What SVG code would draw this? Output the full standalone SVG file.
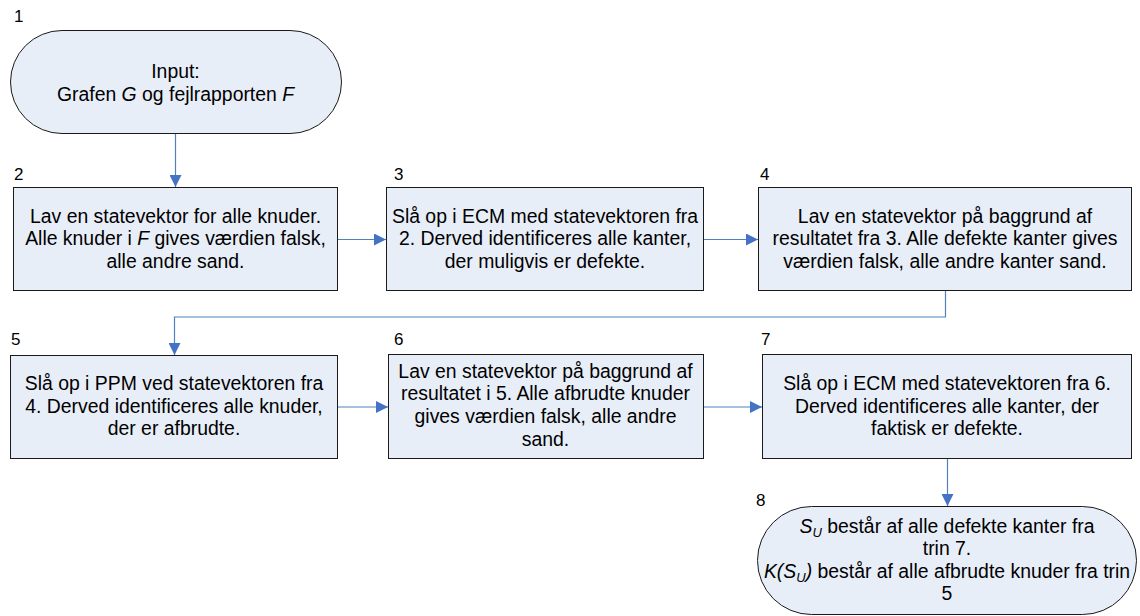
<svg xmlns="http://www.w3.org/2000/svg" width="1140" height="616" viewBox="0 0 1140 616">
  <defs>
    <marker id="arrow" viewBox="0 0 12 12" refX="12" refY="6" markerWidth="12" markerHeight="12" markerUnits="userSpaceOnUse" orient="auto">
      <path d="M0,0 L12,6 L0,12 Z" fill="#4472c4"/>
    </marker>
    <style>
      .box { fill: #e8eef8; stroke: #1a1a1a; stroke-width: 1; }
      .txt { font-family: "Liberation Sans", Arial, sans-serif; font-size: 19.4px; fill: #000; text-anchor: middle; }
      .num { font-family: "Liberation Sans", Arial, sans-serif; font-size: 17px; fill: #000; }
      .it { font-style: italic; }
      .sub { font-style: italic; font-size: 13px; }
      .conn { fill: none; stroke: #4f81bd; stroke-width: 1.2; marker-end: url(#arrow); }
    </style>
  </defs>
  <rect width="1140" height="616" fill="#ffffff"/>

  <!-- connectors -->
  <g id="connectors">
    <path class="conn" d="M175.5,133 L175.5,187"/>
    <path class="conn" d="M337,239.5 L386,239.5"/>
    <path class="conn" d="M703,239.5 L758,239.5"/>
    <path class="conn" d="M945.5,291 L945.5,317 L174.5,317 L174.5,355"/>
    <path class="conn" d="M338,407 L388,407"/>
    <path class="conn" d="M703,407 L762,407"/>
    <path class="conn" d="M947.5,458 L947.5,506"/>
  </g>

  <!-- step 1: input terminator -->
  <g id="node1">
    <text class="num" x="14" y="22">1</text>
    <rect class="box" x="10.5" y="30.5" width="331" height="103" rx="51.5" ry="51.5"/>
    <text class="txt" x="175.5" y="78">Input:</text>
    <text class="txt" x="175.5" y="100.5">Grafen <tspan class="it">G</tspan> og fejlrapporten <tspan class="it">F</tspan></text>
  </g>

  <!-- step 2 -->
  <g id="node2">
    <text class="num" x="14" y="180">2</text>
    <rect class="box" x="13.5" y="187.5" width="324" height="103"/>
    <text class="txt" x="175.5" y="222.5">Lav en statevektor for alle knuder.</text>
    <text class="txt" x="175.5" y="245">Alle knuder i <tspan class="it">F</tspan> gives værdien falsk,</text>
    <text class="txt" x="175.5" y="267.5">alle andre sand.</text>
  </g>

  <!-- step 3 -->
  <g id="node3">
    <text class="num" x="394" y="180">3</text>
    <rect class="box" x="386.5" y="187.5" width="317" height="103"/>
    <text class="txt" x="545" y="222.5">Slå op i ECM med statevektoren fra</text>
    <text class="txt" x="545" y="245">2. Derved identificeres alle kanter,</text>
    <text class="txt" x="545" y="267.5">der muligvis er defekte.</text>
  </g>

  <!-- step 4 -->
  <g id="node4">
    <text class="num" x="760" y="180">4</text>
    <rect class="box" x="758.5" y="187.5" width="373" height="103"/>
    <text class="txt" x="945" y="222.5">Lav en statevektor på baggrund af</text>
    <text class="txt" x="945" y="245">resultatet fra 3. Alle defekte kanter gives</text>
    <text class="txt" x="945" y="267.5">værdien falsk, alle andre kanter sand.</text>
  </g>

  <!-- step 5 -->
  <g id="node5">
    <text class="num" x="11" y="345">5</text>
    <rect class="box" x="10.5" y="355.5" width="327" height="103"/>
    <text class="txt" x="174" y="390">Slå op i PPM ved statevektoren fra</text>
    <text class="txt" x="174" y="412.5">4. Derved identificeres alle knuder,</text>
    <text class="txt" x="174" y="435">der er afbrudte.</text>
  </g>

  <!-- step 6 -->
  <g id="node6">
    <text class="num" x="394" y="345">6</text>
    <rect class="box" x="388.5" y="354.5" width="315" height="104"/>
    <text class="txt" x="545.5" y="377.5">Lav en statevektor på baggrund af</text>
    <text class="txt" x="545.5" y="400">resultatet i 5. Alle afbrudte knuder</text>
    <text class="txt" x="545.5" y="422.5">gives værdien falsk, alle andre</text>
    <text class="txt" x="545.5" y="445.5">sand.</text>
  </g>

  <!-- step 7 -->
  <g id="node7">
    <text class="num" x="761" y="345">7</text>
    <rect class="box" x="762.5" y="354.5" width="369" height="104"/>
    <text class="txt" x="947" y="390">Slå op i ECM med statevektoren fra 6.</text>
    <text class="txt" x="947" y="412.5">Derved identificeres alle kanter, der</text>
    <text class="txt" x="947" y="435">faktisk er defekte.</text>
  </g>

  <!-- step 8: result terminator -->
  <g id="node8">
    <text class="num" x="756" y="506">8</text>
    <rect class="box" x="757.5" y="506.5" width="379" height="108" rx="54" ry="54"/>
    <text class="txt" x="947" y="532.5"><tspan class="it">S</tspan><tspan class="sub" dy="4">U</tspan><tspan dy="-4"> består af alle defekte kanter fra</tspan></text>
    <text class="txt" x="947" y="555">trin 7.</text>
    <text class="txt" x="947" y="577.5"><tspan class="it">K(S</tspan><tspan class="sub" dy="4">U</tspan><tspan class="it" dy="-4">)</tspan> består af alle afbrudte knuder fra trin</text>
    <text class="txt" x="947" y="600">5</text>
  </g>
</svg>
